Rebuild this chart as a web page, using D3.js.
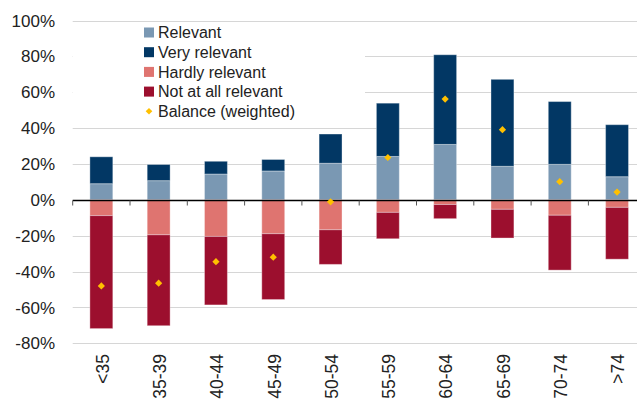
<!DOCTYPE html>
<html>
<head>
<meta charset="utf-8">
<script src="https://cdn.jsdelivr.net/npm/d3@7"></script>
<style>
  body { margin: 0; background: #fff; }
  text { font-family: "Liberation Sans", Arial, sans-serif; fill: #222; }
</style>
</head>
<body>
<div id="chart"></div>
<script>
const ageGroups = ['<35', '35-39', '40-44', '45-49', '50-54', '55-59', '60-64', '65-69', '70-74', '>74'];
const relevant = [9, 10.7, 14.4, 16.1, 20.4, 24.2, 30.9, 18.7, 19.8, 12.9];
const veryRelevant = [15, 9, 7.1, 6.4, 16.3, 29.7, 50, 48.5, 35, 29];
const hardlyRelevant = [-8.8, -19.5, -20.4, -18.9, -16.7, -7, -2.6, -5.3, -8.6, -4.2];
const notAtAllRelevant = [-63, -50.7, -38.2, -36.7, -19.3, -14.7, -7.9, -16, -30.6, -28.9];
const balance = [-48, -46.5, -34.5, -32, -1.1, 23.6, 56.2, 39.1, 10.1, 4.3];
const yTicks = [-80, -60, -40, -20, 0, 20, 40, 60, 80, 100];

const seriesNames = ['Relevant', 'Very relevant', 'Hardly relevant', 'Not at all relevant'];
const seriesColors = ['#7a98b3', '#023764', '#df7470', '#9c0f2e'];
const balanceColor = '#ffc000';

const width = 637, height = 400;
const margin = { left: 72.7, top: 20.5, right: -8.7, bottom: 56.7 };

const svg = d3.select('#chart').append('svg')
    .attr('width', width)
    .attr('height', height);

const x = d3.scaleBand()
    .domain(ageGroups)
    .range([margin.left, width - margin.right])
    .paddingInner(0.6)
    .paddingOuter(0.3);

const y = d3.scaleLinear()
    .domain([-80, 100])
    .range([height - margin.bottom, margin.top]);

// grid
svg.append('g')
    .selectAll('line').data(yTicks.filter(d => d !== 0))
    .enter().append('line')
    .attr('x1', margin.left).attr('x2', width)
    .attr('y1', d => Math.round(y(d)) + 0.5).attr('y2', d => Math.round(y(d)) + 0.5)
    .attr('stroke', '#d6d6d6').attr('stroke-width', 1.2);

// y labels
svg.append('g')
    .selectAll('text').data(yTicks)
    .enter().append('text')
    .attr('x', 55)
    .attr('y', d => y(d))
    .attr('dy', '0.36em')
    .attr('text-anchor', 'end')
    .style('font-size', '17px')
    .text(d => d + '%');

// stacked segments
const segments = [];
ageGroups.forEach((g, i) => {
    segments.push({ g, s: 0, y0: 0, y1: relevant[i] });
    segments.push({ g, s: 1, y0: relevant[i], y1: relevant[i] + veryRelevant[i] });
    segments.push({ g, s: 2, y0: 0, y1: hardlyRelevant[i] });
    segments.push({ g, s: 3, y0: hardlyRelevant[i], y1: hardlyRelevant[i] + notAtAllRelevant[i] });
});

svg.append('g')
    .selectAll('rect').data(segments)
    .enter().append('rect')
    .attr('x', d => x(d.g))
    .attr('width', x.bandwidth())
    .attr('y', d => y(Math.max(d.y0, d.y1)))
    .attr('height', d => Math.abs(y(d.y0) - y(d.y1)))
    .attr('fill', d => seriesColors[d.s])
    .attr('stroke', 'rgba(255,255,255,0.35)')
    .attr('stroke-width', 1);

// zero axis with ticks
const zeroY = Math.round(y(0)) + 0.5;
svg.append('line')
    .attr('x1', margin.left).attr('x2', width)
    .attr('y1', zeroY).attr('y2', zeroY)
    .attr('stroke', '#000').attr('stroke-width', 1.3);

const boundaries = ageGroups.map(g => x(g) - x.step() * 0.3);
svg.append('g')
    .selectAll('line').data(boundaries)
    .enter().append('line')
    .attr('x1', d => d).attr('x2', d => d)
    .attr('y1', zeroY).attr('y2', zeroY + 5)
    .attr('stroke', '#555').attr('stroke-width', 1);

// balance markers
svg.append('g')
    .selectAll('path').data(balance)
    .enter().append('path')
    .attr('d', d3.symbol().type(d3.symbolSquare).size(26))
    .attr('transform', (d, i) => 'translate(' + (x(ageGroups[i]) + x.bandwidth() / 2) + ',' + y(d) + ') rotate(45)')
    .attr('fill', balanceColor);

// x labels
svg.append('g')
    .selectAll('text').data(ageGroups)
    .enter().append('text')
    .attr('transform', d => 'translate(' + (x(d) + x.bandwidth() / 2 + 1) + ',' + 354 + ') rotate(-90)')
    .attr('text-anchor', 'end')
    .attr('dy', '0.36em')
    .style('font-size', '17.5px')
    .text(d => d);

// legend
const legend = svg.append('g');
legend.append('rect')
    .attr('x', 73).attr('y', 23)
    .attr('width', 292).attr('height', 100)
    .attr('fill', '#fff');

const legendItems = seriesNames.concat(['Balance (weighted)']);
const rowY = i => 32.5 + i * 19.7;
legendItems.forEach((name, i) => {
    if (i < 4) {
        legend.append('rect')
            .attr('x', 144).attr('y', rowY(i) - 5)
            .attr('width', 10).attr('height', 10)
            .attr('fill', seriesColors[i]);
    } else {
        legend.append('path')
            .attr('d', d3.symbol().type(d3.symbolSquare).size(22))
            .attr('transform', 'translate(149,' + rowY(i) + ') rotate(45)')
            .attr('fill', balanceColor);
    }
    legend.append('text')
        .attr('x', 158)
        .attr('y', rowY(i))
        .attr('dy', '0.36em')
        .style('font-size', '16px')
        .text(name);
});
</script>
</body>
</html>
